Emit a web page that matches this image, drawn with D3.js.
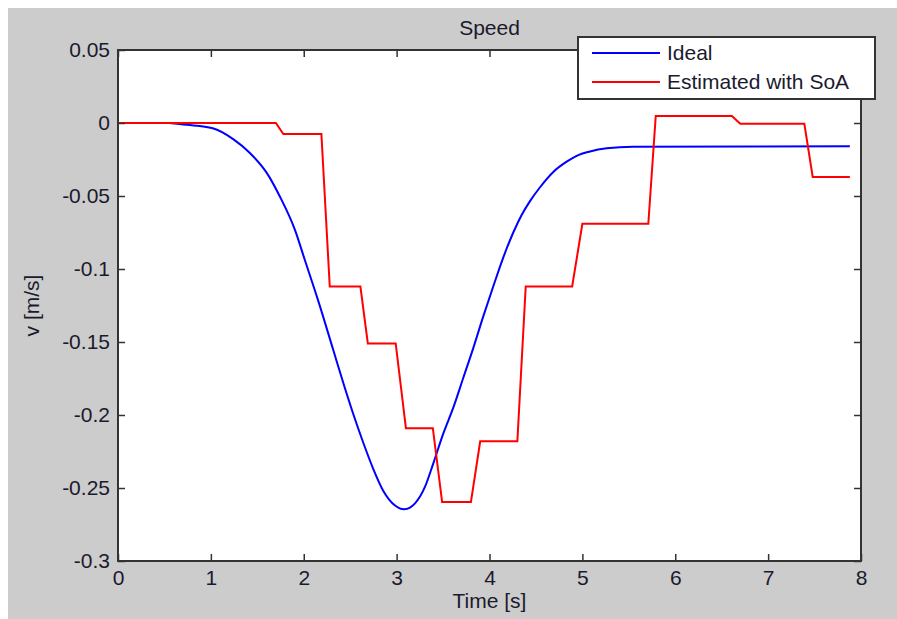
<!DOCTYPE html>
<html>
<head>
<meta charset="utf-8">
<script src="https://cdn.jsdelivr.net/npm/d3@7"></script>
<style>
  html, body { margin: 0; padding: 0; background: #ffffff; }
  svg { display: block; }
  text { font-family: "Liberation Sans", Arial, sans-serif; fill: #1a1a2e; }
</style>
</head>
<body>
<svg id="chart" width="897" height="619"></svg>
<script>
// ---- data ----
const title = "Speed";
const xLabel = "Time [s]";
const yLabel = "v [m/s]";
const seriesNames = ["Ideal", "Estimated with SoA"];
const xTicks = [0, 1, 2, 3, 4, 5, 6, 7, 8];
const yTicks = [0.05, 0, -0.05, -0.1, -0.15, -0.2, -0.25, -0.3];

const idealT = [0.55, 0.74, 1.02, 1.24, 1.42, 1.60, 1.74, 1.91, 2.01, 2.157, 2.318, 2.426, 2.534, 2.641, 2.749, 2.857, 2.983, 3.079, 3.198, 3.306, 3.395, 3.503, 3.610, 3.718, 3.826, 3.925, 4.04, 4.149, 4.256, 4.346, 4.436, 4.544, 4.687, 4.831, 4.939, 5.082, 5.262, 5.545, 7.88];
const idealV = [0, -0.0012, -0.0036, -0.0110, -0.0205, -0.0340, -0.0500, -0.0740, -0.0935, -0.1220, -0.1555, -0.1781, -0.1995, -0.2190, -0.2370, -0.2520, -0.2620, -0.2646, -0.2605, -0.2491, -0.2331, -0.2126, -0.1950, -0.1745, -0.1540, -0.1340, -0.1120, -0.0920, -0.0750, -0.0630, -0.0535, -0.0440, -0.0335, -0.0265, -0.0225, -0.0195, -0.0173, -0.0162, -0.016];

const estT = [0, 1.70, 1.78, 2.19, 2.28, 2.61, 2.69, 2.99, 3.10, 3.39, 3.49, 3.80, 3.90, 4.30, 4.39, 4.89, 5.00, 5.71, 5.79, 6.61, 6.70, 7.39, 7.48, 7.88];
const estV = [0, 0, -0.0075, -0.0075, -0.112, -0.112, -0.151, -0.151, -0.209, -0.209, -0.2596, -0.2596, -0.218, -0.218, -0.112, -0.112, -0.069, -0.069, 0.0048, 0.0048, -0.0005, -0.0005, -0.037, -0.037];

const colors = ["#0000ff", "#ff0000"];

// ---- layout ----
const svg = d3.select("#chart");
const W = 897, H = 619;
const plot = { left: 118, top: 50, right: 861, bottom: 561 };
const fontSize = 21;

svg.append("rect").attr("x", 8).attr("y", 8).attr("width", W - 8).attr("height", H - 8).attr("fill", "#cccccc");
svg.append("rect").attr("x", plot.left).attr("y", plot.top)
  .attr("width", plot.right - plot.left).attr("height", plot.bottom - plot.top).attr("fill", "#ffffff");

const x = d3.scaleLinear().domain([0, 8]).range([plot.left, plot.right]);
const y = d3.scaleLinear().domain([-0.3, 0.05]).range([plot.bottom, plot.top]);

const yFmt = d => d === 0 ? "0" : String(+d.toFixed(2));
const axisColor = "#333333";

function styleAxis(g) {
  g.selectAll("path.domain").remove();
  g.selectAll(".tick line").attr("stroke", axisColor).attr("stroke-width", 1.5);
  g.selectAll(".tick text").attr("font-size", fontSize).attr("fill", "#1a1a2e")
    .attr("font-family", "'Liberation Sans', Arial, sans-serif");
}

// clip for lines
svg.append("clipPath").attr("id", "clip").append("rect")
  .attr("x", plot.left).attr("y", plot.top)
  .attr("width", plot.right - plot.left).attr("height", plot.bottom - plot.top);

// lines
const ideal = idealT.map((t, i) => [t, idealV[i]]);
const est = estT.map((t, i) => [t, estV[i]]);

svg.append("path").datum(ideal)
  .attr("clip-path", "url(#clip)")
  .attr("fill", "none").attr("stroke", colors[0]).attr("stroke-width", 2)
  .attr("d", d3.line().x(d => x(d[0])).y(d => y(d[1])).curve(d3.curveMonotoneX));

svg.append("path").datum(est)
  .attr("clip-path", "url(#clip)")
  .attr("fill", "none").attr("stroke", colors[1]).attr("stroke-width", 2)
  .attr("d", d3.line().x(d => x(d[0])).y(d => y(d[1])));

// axes
svg.append("g").attr("transform", `translate(0,${plot.bottom})`)
  .call(d3.axisBottom(x).tickValues(xTicks).tickFormat(d3.format("d")).tickSize(-7).tickPadding(9))
  .call(styleAxis);
svg.append("g").attr("transform", `translate(0,${plot.top})`)
  .call(d3.axisTop(x).tickValues(xTicks).tickFormat("").tickSize(-7))
  .call(styleAxis);
svg.append("g").attr("transform", `translate(${plot.left},0)`)
  .call(d3.axisLeft(y).tickValues(yTicks).tickFormat(yFmt).tickSize(-7).tickPadding(8))
  .call(styleAxis);
svg.append("g").attr("transform", `translate(${plot.right},0)`)
  .call(d3.axisRight(y).tickValues(yTicks).tickFormat("").tickSize(-7))
  .call(styleAxis);

// box
svg.append("rect").attr("x", plot.left).attr("y", plot.top)
  .attr("width", plot.right - plot.left).attr("height", plot.bottom - plot.top)
  .attr("fill", "none").attr("stroke", axisColor).attr("stroke-width", 2);

// title & labels
svg.append("text").attr("x", (plot.left + plot.right) / 2).attr("y", 35)
  .attr("text-anchor", "middle").attr("font-size", fontSize).text(title);
svg.append("text").attr("x", (plot.left + plot.right) / 2).attr("y", 608)
  .attr("text-anchor", "middle").attr("font-size", fontSize).text(xLabel);
svg.append("text").attr("transform", `translate(39,${(plot.top + plot.bottom) / 2}) rotate(-90)`)
  .attr("text-anchor", "middle").attr("font-size", fontSize).text(yLabel);

// legend
const lg = svg.append("g");
lg.append("rect").attr("x", 578).attr("y", 37).attr("width", 297).attr("height", 62)
  .attr("fill", "#ffffff").attr("stroke", axisColor).attr("stroke-width", 2);
seriesNames.forEach((name, i) => {
  const yy = 53 + i * 29;
  lg.append("line").attr("x1", 592).attr("x2", 660).attr("y1", yy).attr("y2", yy)
    .attr("stroke", colors[i]).attr("stroke-width", 2);
  lg.append("text").attr("x", 667).attr("y", yy).attr("dy", "0.35em")
    .attr("font-size", fontSize).text(name);
});
</script>
</body>
</html>
